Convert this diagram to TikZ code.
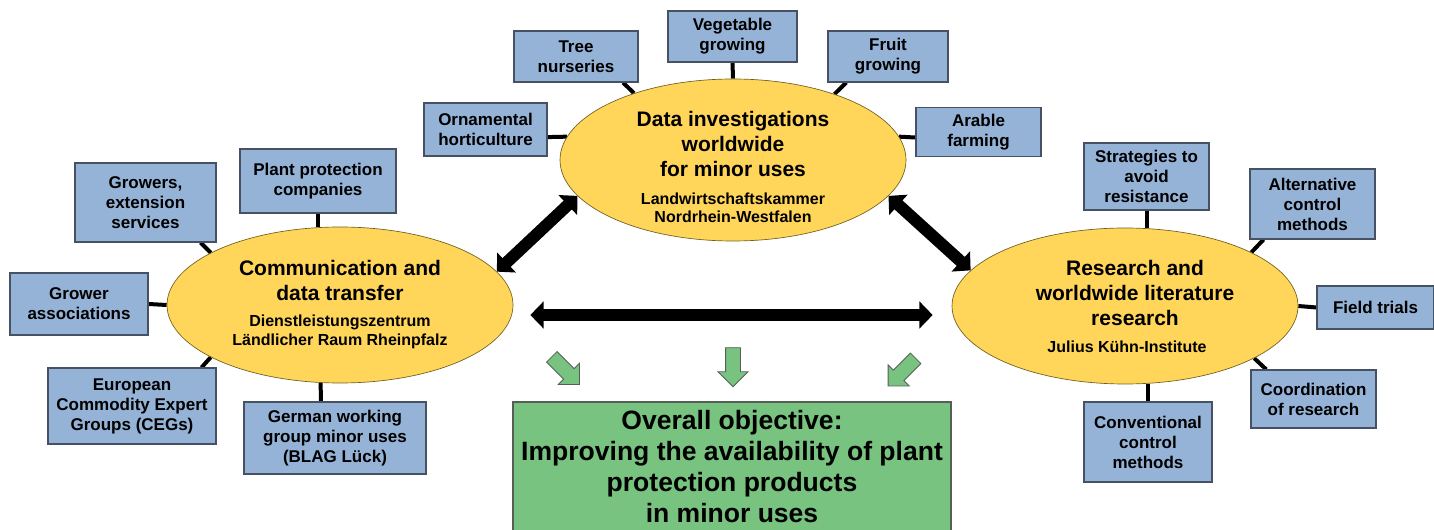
\documentclass[tikz,border=0pt]{standalone}
\usepackage{fontspec}
\setmainfont{Liberation Sans}
\usetikzlibrary{arrows.meta,positioning,shapes.geometric,shapes.arrows,calc}

\definecolor{boxblue}{RGB}{149,179,215}
\definecolor{boxedge}{RGB}{70,82,100}
\definecolor{hubyellow}{RGB}{255,213,90}
\definecolor{hubedge}{RGB}{110,95,30}
\definecolor{goalgreen}{RGB}{119,195,127}
\definecolor{goaledge}{RGB}{85,95,85}

\tikzset{
  topic/.style={draw=boxedge, fill=boxblue, line width=0.8pt, align=center, inner sep=0pt,
    font=\bfseries\fontsize{12.75}{15}\selectfont},
  hub/.style={ellipse, draw=hubedge, fill=hubyellow, line width=0.5pt, inner sep=0pt,
    minimum width=259.5pt, minimum height=117pt},
  hubtitle/.style={align=center, inner sep=0pt, font=\bfseries\fontsize{15.75}{18.75}\selectfont},
  hubsub/.style={align=center, inner sep=0pt, font=\bfseries\fontsize{12}{13.9}\selectfont},
  link/.style={line width=3pt},
  bigarrow/.style={line width=9pt, arrows={Triangle[width=20pt,length=10pt]-Triangle[width=20pt,length=10pt]}},
  pointer/.style={single arrow, draw=goaledge, fill=goalgreen, line width=0.6pt,
    inner xsep=0pt, inner ysep=5.25pt, minimum height=29.25pt, single arrow head extend=5.6pt},
  objective/.style={draw=goaledge, fill=goalgreen, line width=0.8pt, align=center, inner sep=0pt,
    font=\bfseries\fontsize{19.9}{23.25}\selectfont}
}

\begin{document}
\begin{tikzpicture}[x=0.75pt,y=-0.75pt]
    \pgfdeclarelayer{background}
    \pgfsetlayers{background,main}
    \useasboundingbox (0,0) rectangle (1434,530);
    \clip (0,0) rectangle (1434,530);

    % the three working areas
    \node[hub] (comm) at (340,305) {};
    \node[hub, minimum height=121.5pt] (data) at (733,160) {};
    \node[hub] (research) at (1125,306) {};
    \node[hubtitle] (commtitle) at (340,280) {Communication and\\data transfer};
    \node[hubsub] (commsub) at (340,331.7) {Dienstleistungszentrum\\Ländlicher Raum Rheinpfalz};
    \node[hubtitle] (datatitle) at (733,144.3) {Data investigations\\worldwide\\for minor uses};
    \node[hubsub] (datasub) at (733,208) {Landwirtschaftskammer\\Nordrhein-Westfalen};
    \node[hubtitle] (restitle) at (1135,292.5) {Research and\\worldwide literature\\research};
    \node[hubsub] (ressub) at (1127,347) {Julius Kühn-Institute};

    % partners round communication
    \node[topic, minimum width=105.75pt, minimum height=59.25pt] (growers) at (145.5,202.5) {Growers,\\extension\\services};
    \node[topic, minimum width=117pt, minimum height=48pt] (plantprot) at (318,181) {Plant protection\\companies};
    \node[topic, minimum width=103.5pt, minimum height=46.5pt] (assoc) at (79,304) {Grower\\associations};
    \node[topic, minimum width=126pt, minimum height=57pt] (ceg) at (132,406) {European\\Commodity Expert\\Groups (CEGs)};
    \node[topic, minimum width=136.5pt, minimum height=54pt] (blag) at (335,438) {German working\\group minor uses\\(BLAG Lück)};

    % crops round data investigations
    \node[topic, minimum width=93pt, minimum height=38.25pt] (tree) at (576,56.5) {Tree\\nurseries};
    \node[topic, minimum width=96.75pt, minimum height=38.25pt] (veg) at (732.5,36.5) {Vegetable\\growing};
    \node[topic, minimum width=90pt, minimum height=38.25pt] (fruit) at (888,56.5) {Fruit\\growing};
    \node[topic, minimum width=92.25pt, minimum height=39.75pt] (ornam) at (485.5,129.5) {Ornamental\\horticulture};
    \node[topic, minimum width=93.75pt, minimum height=36.75pt] (arable) at (978.5,132) {Arable\\farming};

    % topics round research
    \node[topic, minimum width=93.75pt, minimum height=50.25pt] (strat) at (1146.5,176.5) {Strategies to\\avoid\\resistance};
    \node[topic, minimum width=93.75pt, minimum height=52.5pt] (altctrl) at (1312.5,204) {Alternative\\control\\methods};
    \node[topic, minimum width=87.75pt, minimum height=32.25pt] (field) at (1375.5,307.5) {Field trials};
    \node[topic, minimum width=93.75pt, minimum height=43.5pt] (coord) at (1313.5,399) {Coordination\\of research};
    \node[topic, minimum width=96pt, minimum height=60pt] (conv) at (1148,442) {Conventional\\control\\methods};

    \begin{pgfonlayer}{background}
    \draw[link] (growers.-36) -- (comm.158);
    \draw[link] (plantprot.south) -- (plantprot.south |- comm.north);
    \draw[link] (assoc.east) -- (comm.west);
    \draw[link] (ceg.29) -- (comm.-158);
    \draw[link] (blag.111) -- (comm.256);
    \draw[link] (tree.-29) -- (data.146);
    \draw[link] (veg.south) -- (data.north);
    \draw[link] (fruit.212) -- (data.33);
    \draw[link] (ornam.-7) -- (data.172);
    \draw[link] (arable.185) -- (data.8);
    \draw[link] (strat.south) -- (strat.south |- research.north);
    \draw[link] (altctrl.216) -- (research.23);
    \draw[link] (field.west) -- (research.east);
    \draw[link] (coord.148) -- (research.-22);
    \draw[link] (conv.north) -- (conv.north |- research.south);
    \end{pgfonlayer}

    % exchange between the areas
    \draw[bigarrow] (comm.12) -- (data.193);
    \draw[bigarrow] (data.-13) -- (research.167);
    \draw[bigarrow] ([xshift=12.75pt,yshift=-7.5pt]comm.east) -- ([xshift=-14.25pt,yshift=-6.75pt]research.west);

    % towards the objective
    \node[pointer, rotate=-45] (arrL) at (563,368) {};
    \node[pointer, rotate=-90] (arrM) at (733,363.5) {};
    \node[pointer, rotate=-135] (arrR) at (904.5,369.5) {};

    \node[objective, minimum width=328.5pt, minimum height=96.75pt] (goal) at (732,466.5)
      {Overall objective:\\Improving the availability of plant\\protection products\\in minor uses};
\end{tikzpicture}
\end{document}
